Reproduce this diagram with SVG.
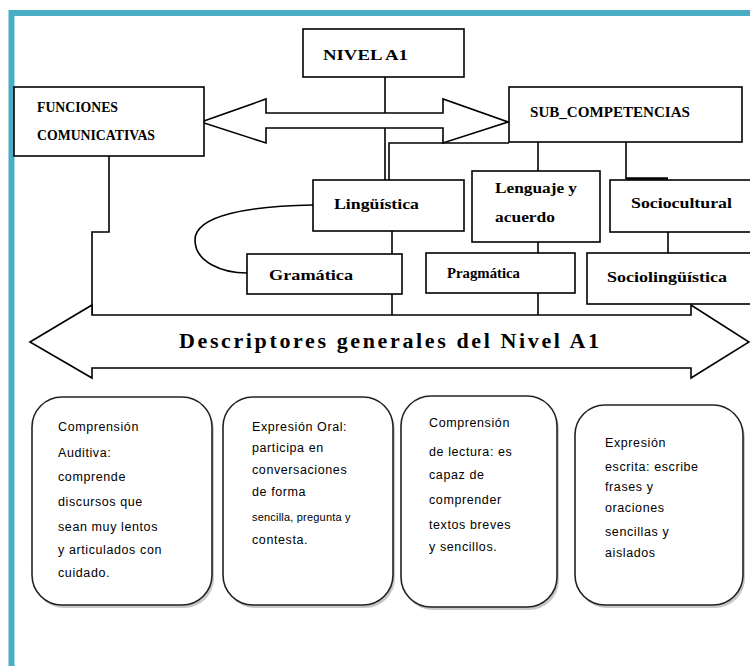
<svg xmlns="http://www.w3.org/2000/svg" width="750" height="666" viewBox="0 0 750 666">
<defs>
<style>
.box{fill:#fff;stroke:#000;stroke-width:1.6}
.rbox{fill:#fff;stroke:#222;stroke-width:1.6}
.shadow{fill:#9a9a9a;opacity:0.55}
.ln{fill:none;stroke:#000;stroke-width:1.6}
.ttl{font-family:"Liberation Serif",serif;font-weight:bold;font-size:14px;fill:#000}
.big{font-family:"Liberation Serif",serif;font-weight:bold;font-size:22px;fill:#000}
.txt{font-family:"Liberation Sans",Arial,sans-serif;font-size:12.5px;fill:#000;letter-spacing:0.6px}
</style>
</defs>
<rect x="0" y="0" width="750" height="666" fill="#fff"/>
<rect x="11.5" y="13" width="800" height="700" fill="none" stroke="#4bacc6" stroke-width="6"/>

<g id="connectors">
  <polygon class="box" points="201,122 266,99 266,113 443,113 443,99 508,122 443,143 443,128 266,128 266,143"/>
  <path class="ln" d="M385,77 V113"/>
  <path class="ln" d="M385,128 V180"/>
  <path class="ln" d="M509,143 H389 V180"/>
  <path class="ln" d="M538,142 V171"/>
  <path class="ln" d="M626,142 V179"/>
  <path fill="none" stroke="#000" stroke-width="2.5" d="M626,178.5 H668"/>
  <path class="ln" d="M109,156 V232 H92 V315"/>
  <path class="ln" d="M392,231 V254"/>
  <path class="ln" d="M538,242 V253"/>
  <path class="ln" d="M668,232 V253"/>
  <path class="ln" d="M313,205 C250,206 195,215 195,240 C195,262 222,273 247,273"/>
</g>

<g id="descriptores">
  <polygon class="box" points="30,342 92,305 92,315 691,315 691,305 749,342 691,378 691,368 92,368 92,378"/>
  <text class="big" x="179" y="348" textLength="420" lengthAdjust="spacing">Descriptores generales del Nivel A1</text>
</g>
<g id="connectors-lower">
  <path class="ln" d="M392,294 V315"/>
  <path class="ln" d="M538,293 V315"/>
</g>

<g id="nivel">
  <rect class="box" x="303" y="29" width="161" height="48"/>
  <text class="ttl" x="323" y="60" textLength="85" lengthAdjust="spacingAndGlyphs">NIVEL A1</text>
</g>
<g id="funciones">
  <rect class="box" x="14" y="87" width="190" height="69"/>
  <text class="ttl" x="37" y="112" textLength="81" lengthAdjust="spacingAndGlyphs">FUNCIONES</text>
  <text class="ttl" x="37" y="140" textLength="118" lengthAdjust="spacingAndGlyphs">COMUNICATIVAS</text>
</g>
<g id="subcompetencias">
  <rect class="box" x="509" y="87" width="233" height="55"/>
  <text class="ttl" x="530" y="117" textLength="160" lengthAdjust="spacingAndGlyphs">SUB_COMPETENCIAS</text>
</g>
<g id="linguistica">
  <rect class="box" x="313" y="180" width="151" height="51"/>
  <text class="ttl" x="334" y="209" textLength="85" lengthAdjust="spacingAndGlyphs">Lingüística</text>
</g>
<g id="lenguaje">
  <rect class="box" x="472" y="171" width="128" height="71"/>
  <text class="ttl" x="495" y="193" textLength="82" lengthAdjust="spacingAndGlyphs">Lenguaje y</text>
  <text class="ttl" x="495" y="222" textLength="60" lengthAdjust="spacingAndGlyphs">acuerdo</text>
</g>
<g id="sociocultural">
  <rect class="box" x="610" y="180" width="142" height="52"/>
  <text class="ttl" x="631" y="208" textLength="101" lengthAdjust="spacingAndGlyphs">Sociocultural</text>
</g>
<g id="gramatica">
  <rect class="box" x="247" y="254" width="155" height="40"/>
  <text class="ttl" x="269" y="280" textLength="84" lengthAdjust="spacingAndGlyphs">Gramática</text>
</g>
<g id="pragmatica">
  <rect class="box" x="426" y="253" width="149" height="40"/>
  <text class="ttl" x="447" y="278" textLength="73" lengthAdjust="spacingAndGlyphs">Pragmática</text>
</g>
<g id="sociolinguistica">
  <rect class="box" x="587" y="253" width="165" height="51"/>
  <text class="ttl" x="607" y="282" textLength="120" lengthAdjust="spacingAndGlyphs">Sociolingüística</text>
</g>

<g id="comprension-auditiva">
  <rect class="shadow" x="34" y="400" width="180" height="208" rx="30"/>
  <rect class="rbox" x="32" y="397" width="180" height="208" rx="30"/>
  <text class="txt" x="58" y="431">Comprensión</text>
  <text class="txt" x="58" y="457">Auditiva:</text>
  <text class="txt" x="58" y="481">comprende</text>
  <text class="txt" x="58" y="506">discursos que</text>
  <text class="txt" x="58" y="531">sean muy lentos</text>
  <text class="txt" x="58" y="554">y articulados con</text>
  <text class="txt" x="58" y="577">cuidado.</text>
</g>
<g id="expresion-oral">
  <rect class="shadow" x="225" y="400" width="170" height="208" rx="30"/>
  <rect class="rbox" x="223" y="397" width="170" height="208" rx="30"/>
  <text class="txt" x="252" y="431">Expresión Oral:</text>
  <text class="txt" x="252" y="452">participa en</text>
  <text class="txt" x="252" y="474">conversaciones</text>
  <text class="txt" x="252" y="496">de forma</text>
  <text class="txt" x="252" y="521" style="font-size:11px;letter-spacing:0.2px">sencilla, pregunta y</text>
  <text class="txt" x="252" y="544">contesta.</text>
</g>
<g id="comprension-lectura">
  <rect class="shadow" x="403" y="399" width="156" height="211" rx="30"/>
  <rect class="rbox" x="401" y="396" width="156" height="211" rx="30"/>
  <text class="txt" x="429" y="427">Comprensión</text>
  <text class="txt" x="429" y="456">de lectura: es</text>
  <text class="txt" x="429" y="479">capaz de</text>
  <text class="txt" x="429" y="504">comprender</text>
  <text class="txt" x="429" y="529">textos breves</text>
  <text class="txt" x="429" y="551">y sencillos.</text>
</g>
<g id="expresion-escrita">
  <rect class="shadow" x="577" y="408" width="168" height="200" rx="30"/>
  <rect class="rbox" x="575" y="405" width="168" height="200" rx="30"/>
  <text class="txt" x="605" y="447">Expresión</text>
  <text class="txt" x="605" y="471">escrita: escribe</text>
  <text class="txt" x="605" y="491">frases y</text>
  <text class="txt" x="605" y="512">oraciones</text>
  <text class="txt" x="605" y="536">sencillas y</text>
  <text class="txt" x="605" y="557">aislados</text>
</g>
</svg>
